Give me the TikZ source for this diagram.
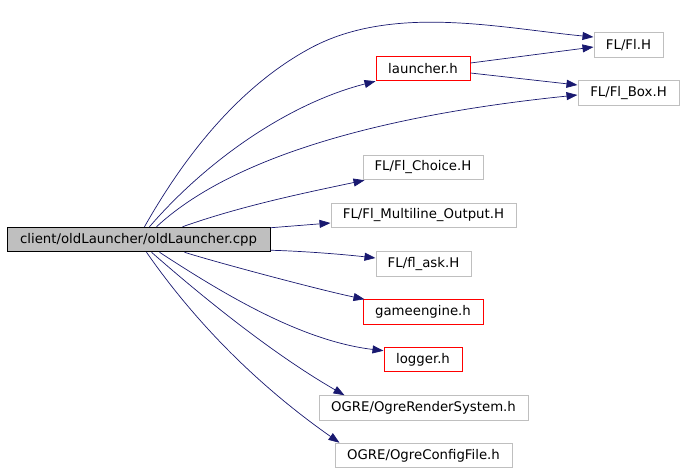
\documentclass[tikz,border=0pt]{standalone}
\usepackage{fontspec}
\setmainfont{DejaVu Sans}
\usepackage{xcolor}
\usepackage{tikz}
\usetikzlibrary{arrows.meta}

\definecolor{edgeblue}{HTML}{191970}
\definecolor{boxgrey}{HTML}{BFBFBF}
\definecolor{boxred}{HTML}{FF0000}

\begin{document}
\begin{tikzpicture}[x=1pt,y=-1pt,
        font=\fontsize{13.3}{15}\selectfont,
        hdr/.style={draw=boxgrey, line width=1pt, inner sep=0pt, minimum height=24.5pt},
        hdrlocal/.style={draw=boxred, line width=1pt, inner sep=0pt, minimum height=24.5pt},
        srcfile/.style={draw=black, fill=boxgrey, line width=1pt, inner sep=0pt, minimum height=24.5pt},
        dep/.style={draw=edgeblue, line width=0.7pt, -{Triangle[length=11pt,width=8pt]}}]
    \useasboundingbox (0,0) rectangle (683,472);
    % source file and included headers
    \node[srcfile, minimum width=263pt] (main) at (138.5,239.5) {client/oldLauncher/oldLauncher.cpp};
    \node[hdrlocal, minimum width=94pt] (launcher) at (423,68.5) {launcher.h};
    \node[hdrlocal, minimum width=120pt] (engine) at (423,312) {gameengine.h};
    \node[hdrlocal, minimum width=78pt] (logger) at (423,359.5) {logger.h};
    \node[hdr, minimum width=69pt] (flh) at (628.5,45) {FL/Fl.H};
    \node[hdr, minimum width=101pt] (flbox) at (628.5,93) {FL/Fl\_Box.H};
    \node[hdr, minimum width=120pt] (flchoice) at (423,167.5) {FL/Fl\_Choice.H};
    \node[hdr, minimum width=185pt] (flmulti) at (423.5,215.5) {FL/Fl\_Multiline\_Output.H};
    \node[hdr, minimum width=95pt] (flask) at (423.5,264) {FL/fl\_ask.H};
    \node[hdr, minimum width=209pt] (ogrerender) at (423.5,408) {OGRE/OgreRenderSystem.h};
    \node[hdr, minimum width=177pt] (ogreconfig) at (423.5,455.5) {OGRE/OgreConfigFile.h};

    % include edges
    \draw[dep] ([xshift=138pt]main.north west) .. controls (184,157) and (237,89) .. (307,50)
        .. controls (390,3) and (499,28) .. ([yshift=8pt]flh.west);
    \draw[dep] ([xshift=143pt]main.north west) .. controls (208,159) and (290,103) .. (launcher.south west);
    \draw[dep] ([xshift=150pt]main.north west) .. controls (247,143) and (431,110) .. ([yshift=-2pt]flbox.west);
    \draw[dep] ([xshift=176pt]main.north west) .. controls (241,206) and (304,193) .. ([xshift=2pt]flchoice.south west);
    \draw[dep] ([yshift=-1pt]main.north east) -- ([yshift=-7.5pt]flmulti.west);
    \draw[dep] ([yshift=2pt]main.south east) .. controls (300,251) and (340,254) .. ([yshift=6pt]flask.west);
    \draw[dep] ([xshift=178pt]main.south west) .. controls (215,262) and (320,290) .. ([xshift=2pt]engine.north west);
    \draw[dep] ([xshift=153pt]main.south west) .. controls (228,297) and (303,341) .. ([yshift=-4pt]logger.north west);
    \draw[dep] ([xshift=145pt]main.south west) .. controls (222,314) and (285,361) .. ([xshift=26pt]ogrerender.north west);
    \draw[dep] ([xshift=140pt]main.south west) .. controls (209,342) and (280,401) .. ([xshift=5pt]ogreconfig.north west);
    \draw[dep] ([yshift=5.5pt]launcher.east) -- ([yshift=-2pt]flh.west);
    \draw[dep] ([yshift=-4.5pt]launcher.east) -- ([yshift=8pt]flbox.west);
\end{tikzpicture}
\end{document}
